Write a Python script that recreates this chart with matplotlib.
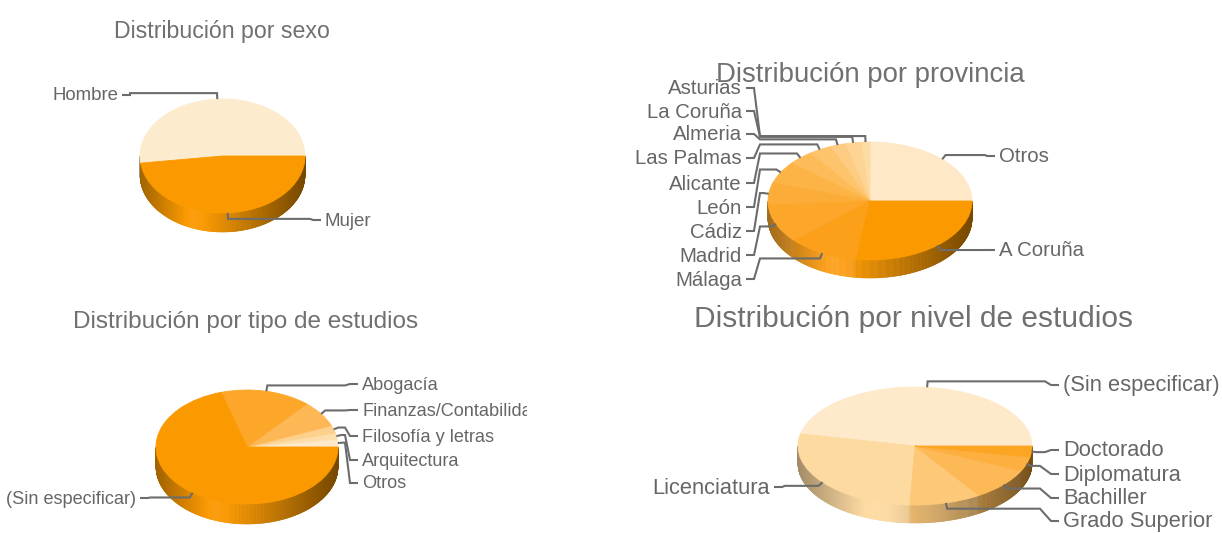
import numpy as np
import matplotlib
matplotlib.use('Agg')
import matplotlib.pyplot as plt
from matplotlib.collections import PolyCollection
from matplotlib.colors import to_rgb
from matplotlib.transforms import Bbox

W, H = 1222, 533

# ---------------- data ----------------
sexo_title = 'Distribución por sexo'
sexo_labels = ['Hombre', 'Mujer']
sexo_values = [52.0, 48.0]
sexo_colors = ['#FDEBCD', '#FB9A00']

prov_title = 'Distribución por provincia'
prov_labels = ['Otros', 'Asturias', 'La Coruña', 'Almeria', 'Las Palmas', 'Alicante',
               'León', 'Cádiz', 'Madrid', 'Málaga', 'A Coruña']
prov_values = [25.0, 1.4, 2.5, 2.5, 3.6, 3.9, 6.1, 6.1, 10.6, 11.1, 27.2]
prov_colors = ['#FEE8C8', '#FDDCA4', '#FDD494', '#FDCC82', '#FDC46C', '#FDBC58',
               '#FDB446', '#FCAD38', '#FCA62A', '#FCA01A', '#FB9900']

tipo_title = 'Distribución por tipo de estudios'
tipo_labels = ['Otros', 'Arquitectura', 'Filosofía y letras', 'Finanzas/Contabilidad',
               'Abogacía', '(Sin especificar)']
tipo_values = [2.2, 1.7, 2.2, 7.5, 16.0, 70.4]
tipo_colors = ['#FEEACB', '#FDDDAA', '#FDD08C', '#FDB855', '#FCA62A', '#FB9900']

nivel_title = 'Distribución por nivel de estudios'
nivel_labels = ['(Sin especificar)', 'Licenciatura', 'Grado Superior', 'Bachiller',
                'Diplomatura', 'Doctorado']
nivel_values = [46.7, 27.6, 9.9, 8.9, 3.9, 3.0]
nivel_colors = ['#FEEACB', '#FDDAA0', '#FDC878', '#FDB955', '#FDB040', '#FCA522']

# ---------------- layout ----------------
NARROW = ['Liberation Sans Narrow', 'Liberation Sans', 'DejaVu Sans']
REGULAR = ['Liberation Sans', 'DejaVu Sans']
TXT = '#666666'
LINE = '#6c6c6c'

fig = plt.figure(figsize=(W / 100, H / 100), dpi=100)
ov = fig.add_axes([0, 0, 1, 1], zorder=10)
ov.set_xlim(0, W)
ov.set_ylim(H, 0)
ov.axis('off')
ov.patch.set_alpha(0)
renderer = fig.canvas.get_renderer()


def fit_size(text, width, family, base=20.0):
    t = ov.text(0, 0, text, fontsize=base, family=family)
    w = t.get_window_extent(renderer).width
    t.remove()
    return base * width / w


def shade(c, x):
    r, g, b = to_rgb(c)
    f = np.interp(x, [-1.0, -0.35, 1.0], [0.64, 1.05, 0.47])
    if f <= 1:
        return (r * f, g * f, b * f)
    k = f - 1
    return (r + (1 - r) * k, g + (1 - g) * k, b + (1 - b) * k)


def draw_pie(cx, cy, rx, ry, depth, values, colors):
    d = depth / ry
    ax = fig.add_axes([(cx - rx) / W, 1 - (cy + ry + depth) / H, 2 * rx / W, (2 * ry + depth) / H])
    wedges, _ = ax.pie(values, colors=colors, startangle=0, counterclock=True, radius=1,
                       wedgeprops=dict(linewidth=0.6))
    for w in wedges:
        w.set_edgecolor(w.get_facecolor())
        w.set_zorder(3)
        w.set_clip_on(False)
    ax.set_aspect('auto')
    ax.set_xlim(-1, 1)
    ax.set_ylim(-1 - d, 1)
    ax.axis('off')
    bounds = 360.0 * np.concatenate([[0], np.cumsum(values)]) / np.sum(values)
    polys, cols = [], []
    for i, c in enumerate(colors):
        a0 = max(bounds[i], 180.0)
        a1 = min(bounds[i + 1], 360.0)
        if a1 <= a0:
            continue
        n = max(2, int((a1 - a0) / 0.5) + 1)
        angs = np.radians(np.linspace(a0, a1, n))
        for t0, t1 in zip(angs[:-1], angs[1:]):
            polys.append([(np.cos(t0), np.sin(t0)), (np.cos(t1), np.sin(t1)),
                          (np.cos(t1), np.sin(t1) - d), (np.cos(t0), np.sin(t0) - d)])
            cols.append(shade(c, np.cos((t0 + t1) / 2)))
    pc = PolyCollection(polys, facecolors=cols, edgecolors=cols, linewidths=0.4, zorder=1)
    pc.set_clip_on(False)
    ax.add_collection(pc)
    mids = np.radians((bounds[:-1] + bounds[1:]) / 2)
    pts = ax.transData.transform(np.column_stack([np.cos(mids), np.sin(mids)]))
    pts = ov.transData.inverted().transform(pts)
    return pts, mids


def leaders(pts, mids, labels, layout, fs, family, clip=None):
    for (px, py), m, lab, (side, ly, xt, xk) in zip(pts, mids, labels, layout):
        ex, ey = 5 * np.cos(m), -6 * np.sin(m)
        p1 = (px + ex, py + ey)
        if side == 'r':
            xe = xt - 4
            xd = xe - 8
        else:
            xe = xt + 4
            xd = xe + 8
        xs = [px, p1[0], xk, xd, xe]
        ys = [py, p1[1], p1[1], ly, ly]
        ov.plot(xs, ys, color=LINE, lw=1.5, solid_joinstyle='miter', solid_capstyle='butt')
        t = ov.text(xt, ly + 1, lab, ha='left' if side == 'r' else 'right', va='center',
                    fontsize=fs, family=family, color=TXT)
        if clip is not None:
            t.set_clip_box(clip)
            t.set_clip_on(True)


def title(text, x, y, width, family):
    fs = fit_size(text, width, family)
    ov.text(x, y, text, ha='center', va='baseline', fontsize=fs, family=family, color='#707070')


# ---------- chart 1: sexo ----------
title(sexo_title, 222, 38, 216, NARROW)
pts, mids = draw_pie(222.5, 156, 82.5, 57, 19, sexo_values, sexo_colors)
fs1 = fit_size('Hombre', 66, NARROW)
leaders(pts, mids, sexo_labels,
        [('l', 95, 118, 130), ('r', 220, 325, 310)], fs1, NARROW)

# ---------- chart 2: provincia ----------
title(prov_title, 870, 82, 308, NARROW)
pts, mids = draw_pie(870, 201, 102, 59, 18, prov_values, prov_colors)
fs2 = fit_size('Las Palmas', 106, NARROW)
left_y = {'Asturias': 88, 'La Coruña': 111, 'Almeria': 134, 'Las Palmas': 158,
          'Alicante': 183, 'León': 207, 'Cádiz': 231, 'Madrid': 255, 'Málaga': 279}
lay2 = []
for lab in prov_labels:
    if lab == 'Otros':
        lay2.append(('r', 156, 999, 985))
    elif lab == 'A Coruña':
        lay2.append(('r', 250, 999, 985))
    else:
        lay2.append(('l', left_y[lab], 742, 760))
leaders(pts, mids, prov_labels, lay2, fs2, NARROW)

# ---------- chart 3: tipo de estudios ----------
title(tipo_title, 246, 328, 344, NARROW)
pts, mids = draw_pie(247, 447, 91, 57, 20, tipo_values, tipo_colors)
fs3 = fit_size('(Sin especificar)', 130, NARROW)
lay3 = [('r', 483, 362, 345), ('r', 460, 362, 345), ('r', 436, 362, 345),
        ('r', 410, 362, 345), ('r', 384, 362, 345), ('l', 498, 136, 150)]
clip = Bbox([[0, 0], [527, H]])
leaders(pts, mids, tipo_labels, lay3, fs3, NARROW, clip=clip)

# ---------- chart 4: nivel de estudios ----------
title(nivel_title, 914, 327, 438, REGULAR)
pts, mids = draw_pie(915, 446, 117, 59, 18, nivel_values, nivel_colors)
fs4 = fit_size('(Sin especificar)', 157, REGULAR)
lay4 = [('r', 385, 1063, 1045), ('l', 487, 770, 785), ('r', 521, 1063, 1040),
        ('r', 498, 1063, 1040), ('r', 474, 1063, 1040), ('r', 450, 1063, 1045)]
leaders(pts, mids, nivel_labels, lay4, fs4, REGULAR)

fig.savefig('out.png', dpi=100, facecolor='white')
